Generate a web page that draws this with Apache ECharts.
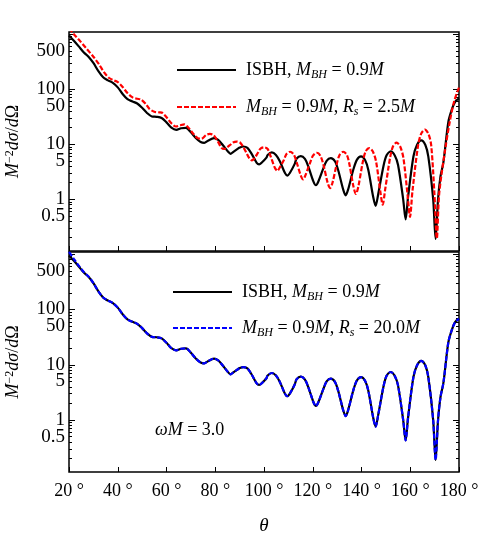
<!DOCTYPE html>
<html>
<head>
<meta charset="utf-8">
<script src="https://cdn.jsdelivr.net/npm/echarts@6/dist/echarts.min.js"></script>
<style>
html, body { margin: 0; padding: 0; background: #fff; }
#chart { width: 482px; height: 536px; }
</style>
</head>
<body>
<div id="chart"></div>
<script>
// ISBH, M_BH = 0.9M (same curve in both panels)
const isbhTheta = [20, 22, 24, 26, 28, 30, 32, 34, 36, 38, 40, 42, 44, 46, 48, 50, 52, 54, 56, 58, 60, 62, 64, 66, 68, 70, 72, 74,
    75.5, 77, 79.5, 81.2, 83, 85.3, 86.3, 87.3, 89.3, 89.8, 91.5, 93.2, 95, 97, 98, 99, 101, 101.5, 103.2, 104.9, 106.5, 108.6, 109.6, 110.6,
    112.6, 113.4, 115.1, 116.8, 118.2, 120.3, 121.3, 122.3, 124.3, 125.7, 127.4, 129.1, 130.5, 132.5, 133.5, 134.5, 136.6, 138.1, 139.8,
    141.5, 142.8, 144.8, 145.8, 146.8, 149, 150.3, 152, 153.7, 155, 157.1, 158.1, 159.1, 161.3, 162.8, 164.5, 166.2, 167.4, 169.4, 170.4,
    171.4, 172.4, 173.6, 175.6, 177, 178.4, 180];
const isbhValue = [950, 760, 600, 470, 390, 300, 215, 165, 145, 130, 108, 82, 66, 60, 55, 46, 37, 32, 31.5, 30, 25, 20, 18.2, 19.5, 19.8, 16.5, 13, 11,
    10.6, 11.6, 12.9, 12.0, 9.8, 7.3, 6.7, 7.2, 8.3, 8.6, 9.1, 8.6, 6.6, 4.6, 4.3, 4.6, 5.7, 6.4, 7.1, 6.4, 4.9, 3.0, 2.7, 3.0,
    4.4, 5.5, 6.1, 5.4, 3.9, 2.1, 1.8, 2.1, 3.6, 5.0, 5.6, 4.9, 3.3, 1.5, 1.18, 1.5, 3.4, 5.2, 6.0,
    5.1, 3.4, 1.1, 0.76, 1.2, 4.0, 6.3, 7.4, 6.2, 4.2, 1.0, 0.43, 1.1, 6.0, 9.8, 11.8, 9.7, 6.0, 1.0, 0.19,
    1.0, 2.6, 4.7, 25, 42, 59, 68];

// M_BH = 0.9M, R_s = 2.5M (top panel)
const rs25Theta = [20, 22, 24, 27, 30, 32.4, 34.5, 36.5, 38.5, 40, 42, 44, 46.1, 48, 49.5, 51.5, 53, 55, 57, 58.4, 60, 62, 63.9, 65.5, 67.3,
    69, 71, 72.8, 74.3, 76.3, 77.8, 79.3, 80.9, 82.6, 83.6, 84.6, 86.2, 87.3, 88.8, 90.3, 92.1, 94, 95, 96, 97.5, 98.5, 100,
    101.5, 102.8, 104.5, 105.5, 106.5, 108.1, 109.2, 110.7, 112.2, 113.4, 115.1, 116.1, 117.1, 118.9, 120.1, 121.6, 123.1, 124.4,
    126.1, 127.1, 128.1, 129.8, 131, 132.5, 134, 135.1, 136.7, 137.7, 138.7, 140.5, 141.7, 143.2, 144.7, 146, 147.7, 148.7, 149.7,
    151.7, 152.9, 154.4, 155.9, 157.2, 158.9, 159.9, 160.9, 163.2, 164.5, 166, 167.5, 168.6, 169.9, 170.9, 171.9, 174.3, 176.3, 178, 180];
const rs25Value = [1300, 1000, 800, 560, 390, 280, 200, 160, 145, 135, 110, 85, 71, 67, 65, 54, 44, 39, 38, 37, 31, 24, 21, 22, 23,
    20, 15.5, 12.9, 12.6, 14.8, 15.4, 14.6, 11.6, 8.6, 8.2, 8.6, 9.8, 10.8, 11.2, 10.6, 8.0, 5.5, 5.1, 5.5, 7.0, 8.3, 8.8,
    8.2, 5.9, 3.7, 3.3, 3.8, 5.1, 6.6, 7.3, 6.5, 4.7, 2.7, 2.3, 2.8, 4.6, 6.2, 7.0, 6.2, 4.2,
    2.0, 1.6, 2.0, 4.3, 6.4, 7.3, 6.4, 4.2, 1.7, 1.25, 1.7, 4.7, 7.4, 8.5, 7.3, 4.8, 1.4, 0.8, 1.5,
    5.6, 9.1, 10.7, 9.0, 5.6, 1.2, 0.48, 1.4, 9.5, 15.6, 18.5, 15.3, 9.5, 1.3, 0.195, 1.3, 7.9, 27, 60, 108];

// M_BH = 0.9M, R_s = 20.0M (bottom panel, lies on top of the ISBH curve)
const rs20Theta = [20, 22, 24, 26, 28, 30, 32, 34, 36, 38, 40, 42, 44, 46, 48, 50, 52, 54, 56, 58, 60, 62, 64, 66, 68, 70, 72, 74,
    75.5, 77, 79.5, 81.2, 83, 85.3, 86.3, 87.3, 89.3, 89.8, 91.5, 93.2, 95, 97, 98, 99, 101, 101.5, 103.2, 104.9, 106.5, 108.6, 109.6, 110.6,
    112.6, 113.4, 115.1, 116.8, 118.2, 120.3, 121.3, 122.3, 124.3, 125.7, 127.4, 129.1, 130.5, 132.5, 133.5, 134.5, 136.6, 138.1, 139.8,
    141.5, 142.8, 144.8, 145.8, 146.8, 149, 150.3, 152, 153.7, 155, 157.1, 158.1, 159.1, 161.3, 162.8, 164.5, 166.2, 167.4, 169.4, 170.4,
    171.4, 172.4, 173.6, 175.6, 177, 178.4, 180];
const rs20Value = [1100, 820, 620, 480, 395, 300, 215, 165, 145, 130, 108, 82, 66, 60, 55, 46, 37, 32, 31.5, 30, 25, 20, 18.2, 19.5, 19.8, 16.5, 13, 11,
    10.6, 11.6, 12.9, 12.0, 9.8, 7.3, 6.7, 7.2, 8.3, 8.6, 9.1, 8.6, 6.6, 4.6, 4.3, 4.6, 5.7, 6.4, 7.1, 6.4, 4.9, 3.0, 2.7, 3.0,
    4.4, 5.5, 6.1, 5.4, 3.9, 2.1, 1.8, 2.1, 3.6, 5.0, 5.6, 4.9, 3.3, 1.5, 1.18, 1.5, 3.4, 5.2, 6.0,
    5.1, 3.4, 1.1, 0.76, 1.2, 4.0, 6.3, 7.4, 6.2, 4.2, 1.0, 0.43, 1.1, 6.0, 9.8, 11.8, 9.7, 6.0, 1.0, 0.19,
    1.0, 2.6, 4.7, 25, 42, 59, 68];

// axis ticks
const yDecadeLabels = [1, 10, 100];
const yHalfLabels = [0.5, 5, 50, 500];
const yMajorTicks = [1, 10, 100, 1000];
const yMinorTicks = [0.2, 0.3, 0.4, 0.5, 0.6, 0.7, 0.8, 0.9, 2, 3, 4, 5, 6, 7, 8, 9, 20, 30, 40, 50, 60, 70, 80, 90,
    200, 300, 400, 500, 600, 700, 800, 900];

const FONT = 'Liberation Serif';
const yMin = -0.94, yMax = 3.04;
const toLog = (th, v) => th.map((t, i) => [t, Math.log10(v[i])]);
const lg = arr => arr.map(v => Math.log10(v));

const rich = {
    i: { fontFamily: FONT, fontStyle: 'italic', fontSize: 18, color: '#000' },
    s: { fontFamily: FONT, fontStyle: 'italic', fontSize: 12, color: '#000', verticalAlign: 'bottom', lineHeight: 12 },
    sup: { fontFamily: FONT, fontSize: 12, color: '#000', verticalAlign: 'top', lineHeight: 12 },
    n: { fontFamily: FONT, fontSize: 18, color: '#000' }
};
const names = {
    isbh1: 'ISBH, {i|M}{s|BH} = 0.9{i|M}',
    isbh2: 'ISBH, {i|M}{s|BH} = 0.9{i|M}',
    rs25: '{i|M}{s|BH} = 0.9{i|M}, {i|R}{s|s} = 2.5{i|M}',
    rs20: '{i|M}{s|BH} = 0.9{i|M}, {i|R}{s|s} = 20.0{i|M}'
};

const yLabel = vals => ({
    customValues: lg(vals), margin: 4, color: '#000', fontFamily: FONT, fontSize: 19,
    formatter: v => { const n = Math.pow(10, v); return n < 1 ? n.toFixed(1) : String(Math.round(n)); }
});

function yAxes(gridIndex) {
    const base = {
        type: 'value', gridIndex, min: yMin, max: yMax,
        splitLine: { show: false }, axisLine: { show: false, onZero: false }
    };
    const major = { inside: true, length: 6, lineStyle: { color: '#000', width: 1 }, customValues: lg(yMajorTicks) };
    const minor = { inside: true, length: 3, lineStyle: { color: '#000', width: 1 }, customValues: lg(yMinorTicks) };
    return [
        {
            ...base, position: 'left', axisTick: major, axisLabel: yLabel(yDecadeLabels),
            name: '{i|M}{sup|−2}{i|dσ}/{i|d}Ω', nameLocation: 'middle', nameGap: 47, nameRotate: 90,
            nameTextStyle: { fontFamily: FONT, fontSize: 18, color: '#000', rich }
        },
        { ...base, position: 'left', axisTick: minor, axisLabel: yLabel(yHalfLabels) },
        { ...base, position: 'right', axisTick: major, axisLabel: { show: false } },
        { ...base, position: 'right', axisTick: minor, axisLabel: { show: false } }
    ];
}

function xAxis(gridIndex, labels) {
    return {
        type: 'value', gridIndex, min: 20, max: 180, interval: 20, position: 'bottom',
        splitLine: { show: false }, axisLine: { show: false, onZero: false },
        axisTick: { inside: true, length: 5, lineStyle: { color: '#000', width: 1 } },
        axisLabel: {
            show: labels, margin: 10, color: '#000', fontFamily: FONT, fontSize: 18,
            showMinLabel: true, showMaxLabel: true,
            formatter: v => v + ' °'
        },
        name: labels ? 'θ' : '', nameLocation: 'middle', nameGap: 44,
        nameTextStyle: { fontFamily: FONT, fontStyle: 'italic', fontSize: 19, color: '#000' }
    };
}

function line(name, data, xi, yi, color, dashed) {
    return {
        name, type: 'line', data, xAxisIndex: xi, yAxisIndex: yi,
        symbol: 'none', showSymbol: false, smooth: 0.3, z: dashed ? 3 : 2,
        lineStyle: { color, width: 2.2, type: dashed ? [5, 2] : 'solid' },
        itemStyle: { color }
    };
}

const legendBase = {
    orient: 'vertical', itemWidth: 59, itemHeight: 14, itemGap: 15, padding: 0,
    itemStyle: { opacity: 0 },
    formatter: n => names[n],
    textStyle: { fontFamily: FONT, fontSize: 18, color: '#000', lineHeight: 22, padding: [0, 0, 0, 5], rich }
};

const chart = echarts.init(document.getElementById('chart'));
chart.setOption({
    animation: false,
    backgroundColor: '#fff',
    grid: [
        { left: 69, right: 23, top: 32, height: 219, outerBoundsMode: 'none', containLabel: false,
          show: true, borderColor: '#000', borderWidth: 1.5, backgroundColor: 'transparent' },
        { left: 69, right: 23, top: 252, height: 220, outerBoundsMode: 'none', containLabel: false,
          show: true, borderColor: '#000', borderWidth: 1.5, backgroundColor: 'transparent' }
    ],
    xAxis: [xAxis(0, false), xAxis(1, true)],
    yAxis: [...yAxes(0), ...yAxes(1)],
    legend: [
        { ...legendBase, data: ['isbh1', 'rs25'], left: 176, top: 59 },
        { ...legendBase, data: ['isbh2', 'rs20'], left: 172, top: 281, itemGap: 14 }
    ],
    title: {
        text: '{i|ωM} = 3.0', left: 150, top: 416,
        textStyle: { fontFamily: FONT, fontSize: 18, fontWeight: 'normal', color: '#000', rich }
    },
    series: [
        line('isbh1', toLog(isbhTheta, isbhValue), 0, 0, '#000', false),
        line('rs25', toLog(rs25Theta, rs25Value), 0, 0, '#ff0000', true),
        line('isbh2', toLog(isbhTheta, isbhValue), 1, 4, '#000', false),
        line('rs20', toLog(rs20Theta, rs20Value), 1, 4, '#0000ff', true)
    ]
});
</script>
</body>
</html>
